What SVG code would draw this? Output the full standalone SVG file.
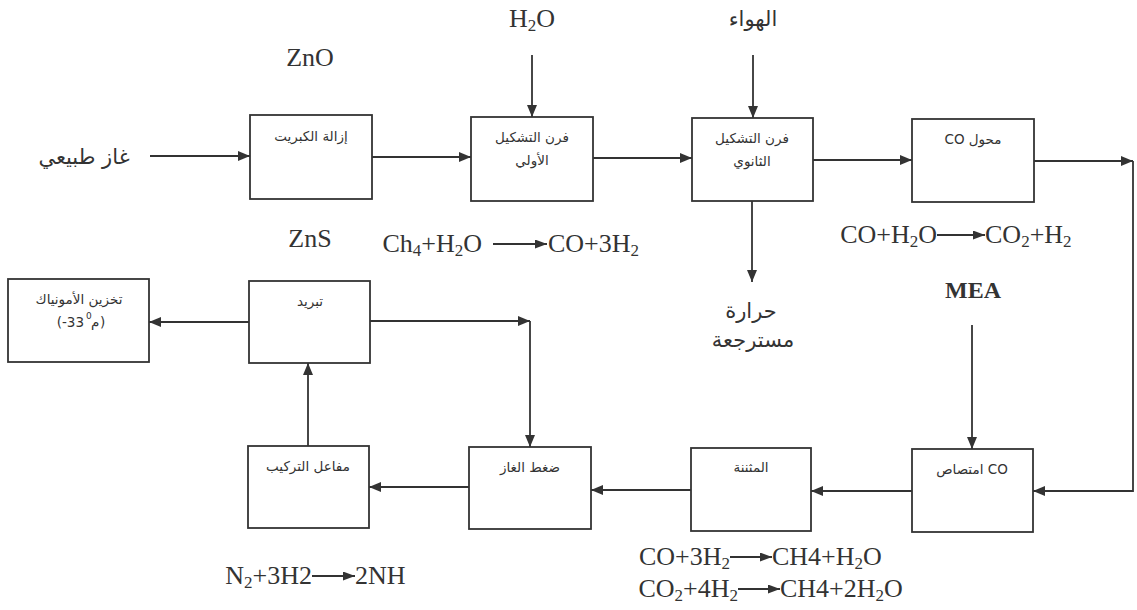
<svg xmlns="http://www.w3.org/2000/svg" width="1137" height="610" viewBox="0 0 1137 610">
  <defs>
    <marker id="head" viewBox="0 0 12 10" refX="12" refY="5" markerWidth="12" markerHeight="10" markerUnits="userSpaceOnUse" orient="auto">
      <path d="M0,0 L12,5 L0,10 z" fill="#333"/>
    </marker>
    <marker id="eqhead" viewBox="0 0 12 9" refX="12" refY="4.5" markerWidth="12" markerHeight="9" markerUnits="userSpaceOnUse" orient="auto">
      <path d="M0,0 L12,4.5 L0,9 z" fill="#333"/>
    </marker>
    <style>
      .box { fill: #fff; stroke: #333; stroke-width: 1.8; }
      .wire { fill: none; stroke: #333; stroke-width: 1.8; marker-end: url(#head); }
      .eqarrow { fill: none; stroke: #333; stroke-width: 1.8; marker-end: url(#eqhead); }
      .lbl { font-family: "DejaVu Sans", sans-serif; font-size: 13.5px; fill: #333; text-anchor: middle; direction: rtl; }
      .temp { font-family: "DejaVu Sans", sans-serif; font-size: 13.5px; fill: #333; }
      .sup { font-size: 9px; }
      .big { font-family: "DejaVu Sans", sans-serif; font-size: 21px; fill: #333; text-anchor: middle; direction: rtl; }
      .chem { font-family: "Liberation Serif", serif; font-size: 26px; fill: #333; }
      .sub { font-size: 17px; }
      .bold { font-weight: bold; font-size: 24px; }
    </style>
  </defs>
  <rect width="1137" height="610" fill="#fff"/>

  <!-- process units -->
  <g id="desulfurization">
    <rect class="box" x="250" y="115" width="122" height="84"/>
    <text class="lbl" x="311" y="141">إزالة الكبريت</text>
  </g>
  <g id="primary-reformer">
    <rect class="box" x="471" y="117" width="122" height="84"/>
    <text class="lbl" x="532" y="142">فرن التشكيل</text>
    <text class="lbl" x="532" y="165">الأولي</text>
  </g>
  <g id="secondary-reformer">
    <rect class="box" x="692" y="118" width="121" height="83"/>
    <text class="lbl" x="752" y="143">فرن التشكيل</text>
    <text class="lbl" x="752" y="166">الثانوي</text>
  </g>
  <g id="co-shift">
    <rect class="box" x="912" y="119" width="122" height="83"/>
    <text class="lbl" x="973" y="144">محول CO</text>
  </g>
  <g id="co-absorption">
    <rect class="box" x="912" y="449" width="121" height="83"/>
    <text class="lbl" x="972" y="474">CO امتصاص</text>
  </g>
  <g id="methanation">
    <rect class="box" x="691" y="448" width="120" height="83"/>
    <text class="lbl" x="751" y="472">المثننة</text>
  </g>
  <g id="compression">
    <rect class="box" x="469" y="447" width="122" height="82"/>
    <text class="lbl" x="530" y="472">ضغط الغاز</text>
  </g>
  <g id="synthesis-reactor">
    <rect class="box" x="248" y="446" width="121" height="82"/>
    <text class="lbl" x="308" y="471">مفاعل التركيب</text>
  </g>
  <g id="cooling">
    <rect class="box" x="249" y="281" width="121" height="82"/>
    <text class="lbl" x="310" y="306">تبريد</text>
  </g>
  <g id="ammonia-storage">
    <rect class="box" x="8" y="279" width="141" height="83"/>
    <text class="lbl" x="79" y="304">تخزين الأمونياك</text>
    <!-- second line set piece by piece: (-33 ⁰م) -->
    <text class="temp" x="84" y="327" text-anchor="end">(-33</text>
    <text class="temp sup" x="86" y="319">0</text>
    <text class="temp" x="91" y="327">م</text>
    <text class="temp" x="100" y="327">)</text>
  </g>

  <!-- feeds, products and notes -->
  <g id="labels">
    <text class="big" x="84" y="164">غاز طبيعي</text>
    <text class="big" x="753" y="26">الهواء</text>
    <text class="big" x="751" y="318">حرارة</text>
    <text class="big" x="753" y="347">مسترجعة</text>
    <text class="chem" x="310" y="66" text-anchor="middle">ZnO</text>
    <text class="chem" x="310" y="247" text-anchor="middle">ZnS</text>
    <text class="chem" x="532" y="27" text-anchor="middle">H<tspan class="sub" dy="4">2</tspan><tspan dy="-4">O</tspan></text>
    <text class="chem bold" x="973" y="298" text-anchor="middle">MEA</text>
  </g>

  <!-- reaction equations -->
  <g id="equations">
    <text class="chem" x="482" y="252" text-anchor="end">Ch<tspan class="sub" dy="4">4</tspan><tspan dy="-4">+H</tspan><tspan class="sub" dy="4">2</tspan><tspan dy="-4">O</tspan></text>
    <path class="eqarrow" d="M493,244 H547"/>
    <text class="chem" x="548" y="252">CO+3H<tspan class="sub" dy="4">2</tspan></text>

    <text class="chem" x="937" y="243" text-anchor="end">CO+H<tspan class="sub" dy="4">2</tspan><tspan dy="-4">O</tspan></text>
    <path class="eqarrow" d="M937,235 H985"/>
    <text class="chem" x="985" y="243">CO<tspan class="sub" dy="4">2</tspan><tspan dy="-4">+H</tspan><tspan class="sub" dy="4">2</tspan></text>

    <text class="chem" x="730" y="565" text-anchor="end">CO+3H<tspan class="sub" dy="4">2</tspan></text>
    <path class="eqarrow" d="M730,557 H772"/>
    <text class="chem" x="772" y="565">CH4+H<tspan class="sub" dy="4">2</tspan><tspan dy="-4">O</tspan></text>

    <text class="chem" x="738" y="597" text-anchor="end">CO<tspan class="sub" dy="4">2</tspan><tspan dy="-4">+4H</tspan><tspan class="sub" dy="4">2</tspan></text>
    <path class="eqarrow" d="M738,589 H780"/>
    <text class="chem" x="780" y="597">CH4+2H<tspan class="sub" dy="4">2</tspan><tspan dy="-4">O</tspan></text>

    <text class="chem" x="312" y="584" text-anchor="end">N<tspan class="sub" dy="4">2</tspan><tspan dy="-4">+3H2</tspan></text>
    <path class="eqarrow" d="M312,576 H355"/>
    <text class="chem" x="355" y="584">2NH</text>
  </g>

  <!-- flow lines -->
  <g id="connectors">
    <path class="wire" d="M150,156 H250"/>
    <path class="wire" d="M372,157 H471"/>
    <path class="wire" d="M593,158 H692"/>
    <path class="wire" d="M813,160 H912"/>
    <path class="wire" d="M1034,161 H1133"/>
    <path class="wire" d="M1133,161 V491 H1033"/>
    <path class="wire" d="M532,55 V117"/>
    <path class="wire" d="M753,55 V118"/>
    <path class="wire" d="M752,201 V282"/>
    <path class="wire" d="M972,325 V449"/>
    <path class="wire" d="M912,491 H811"/>
    <path class="wire" d="M691,490 H591"/>
    <path class="wire" d="M469,487 H369"/>
    <path class="wire" d="M308,446 V363"/>
    <path class="wire" d="M249,322 H149"/>
    <path class="wire" d="M370,321 H530"/>
    <path class="wire" d="M530,321 V447"/>
  </g>
</svg>
